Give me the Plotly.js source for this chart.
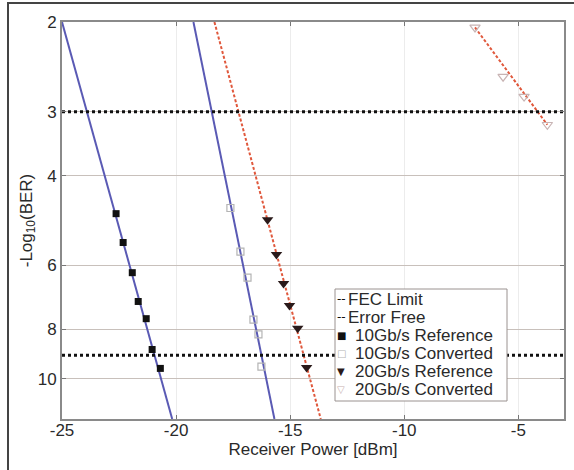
<!DOCTYPE html>
<html>
<head>
<meta charset="utf-8">
<script src="https://cdn.plot.ly/plotly-3.0.1.min.js"></script>
<style>
html,body{margin:0;padding:0;background:#fff;}
#wrap{position:relative;width:574px;height:470px;}
#chart{width:574px;height:470px;}
#frame{position:absolute;left:7px;top:2px;width:567px;height:468px;border-left:2px solid #444;border-top:2px solid #444;pointer-events:none;}
</style>
</head>
<body>
<div id="wrap"><div id="chart"></div><div id="frame"></div></div>
<script>
// Measured points: x = received power [dBm], y = -log10(BER)
const ref10X = [-22.63, -22.32, -21.92, -21.66, -21.31, -21.05, -20.69];
const ref10Y = [4.75, 5.41, 6.20, 7.06, 7.63, 8.77, 9.55];
const conv10X = [-17.62, -17.18, -16.87, -16.61, -16.39, -16.26];
const conv10Y = [4.63, 5.64, 6.34, 7.66, 8.19, 9.47];
const ref20X = [-15.99, -15.60, -15.29, -15.03, -14.67, -14.28];
const ref20Y = [4.88, 5.71, 6.51, 7.19, 7.97, 9.51];
const conv20X = [-6.90, -5.67, -4.75, -3.73];
const conv20Y = [2.05, 2.56, 2.80, 3.18];

// Fitted lines (end points)
const fitRef10X = [-25.0, -20.17];
const fitRef10Y = [2, 12];
const fitConv10X = [-19.24, -15.69];
const fitConv10Y = [2, 12];
const fitRef20X = [-18.32, -13.66];
const fitRef20Y = [2, 12];
const fitConv20X = [-6.90, -3.73];
const fitConv20Y = [2.05, 3.18];

// Reference levels
const limitX = [-25, -3];
const fecY = [3, 3];
const errorFreeY = [9, 9];

const xTicks = [-25, -20, -15, -10, -5];
const xTickText = ['-25', '-20', '-15', '-10', '-5'];
const yTicks = [2, 3, 4, 6, 8, 10];
const yTickText = ['2', '3', '4', '6', '8', '10'];

// Legend entries (label, glyph, glyph colour)
const legendLabels = ['FEC Limit', 'Error Free', '10Gb/s Reference', '10Gb/s Converted', '20Gb/s Reference', '20Gb/s Converted'];
const legendGlyphs = ['--', '--', '\u25A0', '\u25A1', '\u25BC', '\u25BD'];
const legendGlyphColors = ['#111111', '#111111', '#111111', '#b4b4b4', '#2a1a1a', '#c8b0b0'];

const blue = '#5a5ab4';
const red = '#e0583c';

const traces = [
  {x: fitRef10X, y: fitRef10Y, mode: 'lines', line: {color: blue, width: 2}, hoverinfo: 'skip'},
  {x: fitConv10X, y: fitConv10Y, mode: 'lines', line: {color: blue, width: 2}, hoverinfo: 'skip'},
  {x: fitRef20X, y: fitRef20Y, mode: 'lines', line: {color: red, width: 2, dash: '3px,2px'}, hoverinfo: 'skip'},
  {x: fitConv20X, y: fitConv20Y, mode: 'lines', line: {color: red, width: 2, dash: '3px,2px'}, hoverinfo: 'skip'},
  {x: limitX, y: fecY, mode: 'lines', name: legendLabels[0], line: {color: '#111', width: 3, dash: '3px,3px'}},
  {x: limitX, y: errorFreeY, mode: 'lines', name: legendLabels[1], line: {color: '#111', width: 3, dash: '3px,3px'}},
  {x: ref10X, y: ref10Y, mode: 'markers', name: legendLabels[2], marker: {symbol: 'square', size: 7, color: '#111'}},
  {x: conv10X, y: conv10Y, mode: 'markers', name: legendLabels[3], marker: {symbol: 'square-open', size: 7, color: '#b4b4b4', line: {width: 1.2}}},
  {x: ref20X, y: ref20Y, mode: 'markers', name: legendLabels[4], marker: {symbol: 'triangle-down', size: 10, color: '#2a1a1a'}},
  {x: conv20X, y: conv20Y, mode: 'markers', name: legendLabels[5], marker: {symbol: 'triangle-down-open', size: 9, color: '#c8b4b4', line: {width: 1.2}}}
];

// plot area geometry in px (for placing the legend box)
const W = 574, H = 470, ML = 62, MR = 10, MT = 22, MB = 51;
const PW = W - ML - MR, PH = H - MT - MB;
const px2x = p => (p - ML) / PW;
const py2y = p => (H - MB - p) / PH;

const rowY = [299, 317, 335, 353, 371, 389];
const annotations = [];
legendLabels.forEach((lab, i) => {
  const isLine = i < 2;
  annotations.push({
    xref: 'paper', yref: 'paper', x: px2x(341), y: py2y(rowY[i]),
    xanchor: 'center', yanchor: 'middle', showarrow: false, borderpad: 0,
    text: legendGlyphs[i],
    font: {family: 'DejaVu Sans, sans-serif', size: isLine ? 12 : 10, color: legendGlyphColors[i]}
  });
  annotations.push({
    xref: 'paper', yref: 'paper', x: px2x(isLine ? 347 : 354), y: py2y(rowY[i]),
    xanchor: 'left', yanchor: 'middle', showarrow: false, borderpad: 0,
    text: lab,
    font: {family: 'Liberation Sans, Arial, sans-serif', size: 17, color: '#2a2a2a'}
  });
});

const layout = {
  width: W, height: H,
  margin: {l: ML, r: MR, t: MT, b: MB},
  paper_bgcolor: '#ffffff',
  plot_bgcolor: '#ffffff',
  font: {family: 'Liberation Sans, Arial, sans-serif', size: 17, color: '#2a2a2a'},
  showlegend: false,
  annotations: annotations,
  shapes: [{
    type: 'rect', xref: 'paper', yref: 'paper', layer: 'above',
    x0: px2x(335), x1: px2x(507), y0: py2y(401), y1: py2y(289),
    fillcolor: '#ffffff', line: {color: '#9a9290', width: 1}
  }],
  xaxis: {
    range: [-25, -3],
    tickvals: xTicks, ticktext: xTickText,
    ticks: 'inside', ticklen: 4, tickcolor: '#777',
    ticklabelstandoff: -5,
    showline: true, linecolor: '#8a8a8a', linewidth: 2, mirror: 'ticks',
    showgrid: true, gridcolor: '#ececec', gridwidth: 1,
    zeroline: false,
    tickfont: {size: 17},
    title: {text: 'Receiver Power [dBm]', font: {size: 17}, standoff: 0}
  },
  yaxis: {
    type: 'log',
    range: [Math.log10(12), Math.log10(2)],
    tickvals: yTicks, ticktext: yTickText,
    ticks: 'inside', ticklen: 4, tickcolor: '#777',
    showline: true, linecolor: '#8a8a8a', linewidth: 2, mirror: 'ticks',
    showgrid: true, gridcolor: '#c8c0bb', gridwidth: 1,
    zeroline: false,
    tickfont: {size: 17},
    title: {text: '-Log<sub>10</sub>(BER)', font: {size: 17}, standoff: 1}
  }
};

Plotly.newPlot('chart', traces, layout, {displayModeBar: false, staticPlot: true});
</script>
</body>
</html>
